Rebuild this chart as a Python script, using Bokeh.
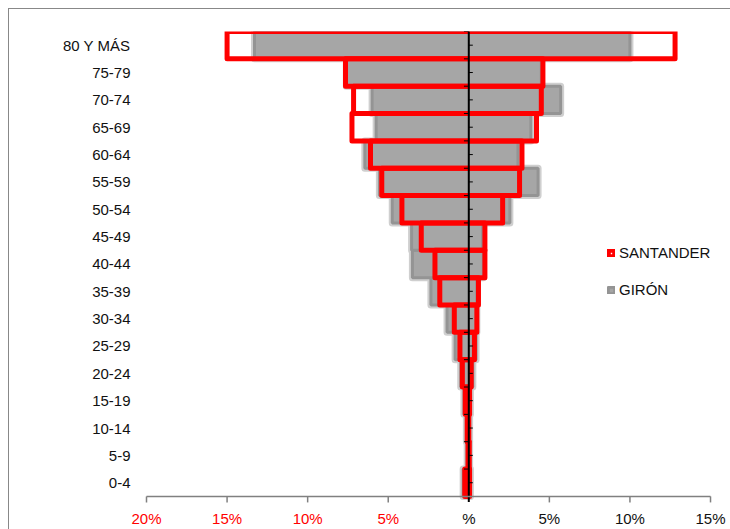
from bokeh.plotting import figure
from bokeh.models import ColumnDataSource, Range1d, Legend, LegendItem, FixedTicker
from bokeh.core.properties import value
from bokeh.embed import file_html
from bokeh.resources import INLINE

# ---- data (bottom to top) ----
ages = ["0-4", "5-9", "10-14", "15-19", "20-24", "25-29", "30-34", "35-39", "40-44",
        "45-49", "50-54", "55-59", "60-64", "65-69", "70-74", "75-79", "80 Y MÁS"]
santander_left = [0.25, 0.05, 0.10, 0.22, 0.40, 0.55, 0.90, 1.80, 2.10, 2.95, 4.15,
                  5.40, 6.10, 7.25, 7.15, 7.65, 15.0]
santander_right = [0.05, 0.03, 0.00, 0.05, 0.15, 0.35, 0.50, 0.60, 1.00, 1.00, 2.10,
                   3.15, 3.30, 4.20, 4.50, 4.60, 12.8]
giron_left = [0.35, 0.10, 0.15, 0.30, 0.50, 0.85, 1.35, 2.35, 3.50, 3.55, 4.75,
              5.55, 6.45, 5.75, 6.00, 7.60, 13.3]
giron_right = [0.10, 0.05, 0.05, 0.10, 0.25, 0.45, 0.50, 0.50, 0.90, 0.85, 2.55,
               4.30, 3.05, 3.85, 5.70, 4.50, 10.0]

tick_values = [-20, -15, -10, -5, 0, 5, 10, 15]
tick_labels = ["20%", "15%", "10%", "5%", "%", "5%", "10%", "15%"]
series_names = ["SANTANDER", "GIRÓN"]

FONT = "Liberation Sans"
RED = "#ff0000"
TXT = "#111111"

n = len(ages)
ypos = [i + 0.5 for i in range(n)]
src = ColumnDataSource(dict(
    y=ypos,
    s_left=[-v for v in santander_left], s_right=santander_right,
    g_left=[-v for v in giron_left], g_right=giron_right,
))

p = figure(width=730, height=529, y_range=Range1d(-1.21, n),
           x_range=Range1d(-20.993, 16.24), output_backend="svg", toolbar_location=None,
           min_border_left=130, min_border_right=0, min_border_top=31, min_border_bottom=0)
p.outline_line_color = None
p.border_fill_alpha = 0
p.styles = {"background": "linear-gradient(#888888,#888888) 8px 8px / 1px 100% no-repeat, "
                          "linear-gradient(#888888,#888888) 8px 8px / 100% 1px no-repeat, white"}
p.xgrid.visible = False
p.ygrid.visible = False
p.xaxis.visible = False

# GIRÓN bars (grey with soft edge)
halo = p.hbar(y="y", left="g_left", right="g_right", height=1.0, source=src,
              fill_alpha=0, line_color="#cfcfcf", line_width=7, line_join="round")
grey = p.hbar(y="y", left="g_left", right="g_right", height=1.0, source=src,
              fill_color="#a6a6a6", line_color="#949494", line_width=3)

# SANTANDER bars (red outline)
red = p.hbar(y="y", left="s_left", right="s_right", height=1.0, source=src,
             fill_alpha=0, line_color=RED, line_width=5, line_join="round")

# vertical zero axis with ticks
bounds = list(range(n + 1))
p.segment(x0=0, y0=-0.2, x1=0, y1=n, line_color="black", line_width=2)
p.segment(x0=[-0.3] * len(bounds), y0=bounds, x1=[0.0] * len(bounds), y1=bounds,
          line_color="black", line_width=1)
p.segment(x0=0, y0="y", x1=0.25, y1="y", source=src, line_color="black", line_width=1)

# horizontal value axis drawn in data space
p.segment(x0=tick_values[0], y0=0, x1=tick_values[-1], y1=0,
          line_color="#808080", line_width=1.5)
nonzero = [v for v in tick_values if v != 0]
p.segment(x0=nonzero, y0=[0] * len(nonzero), x1=nonzero, y1=[-0.22] * len(nonzero),
          line_color="#808080", line_width=1.5)
tl_src = ColumnDataSource(dict(
    x=tick_values, y=[-0.82] * len(tick_values), t=tick_labels,
    c=[RED if v < 0 else TXT for v in tick_values]))
p.text(x="x", y="y", text="t", source=tl_src, text_color="c", text_align="center",
       text_baseline="middle", text_font=value(FONT), text_font_size="15px")

# y axis (labels only)
ya = p.yaxis[0]
ya.ticker = FixedTicker(ticks=ypos)
ya.major_label_overrides = {y: a for y, a in zip(ypos, ages)}
ya.axis_line_color = None
ya.major_tick_line_color = None
ya.minor_tick_line_color = None
ya.major_tick_out = 0
ya.major_label_standoff = 0
ya.major_label_text_font = FONT
ya.major_label_text_font_size = "15px"
ya.major_label_text_color = TXT

legend = Legend(items=[LegendItem(label=series_names[0], renderers=[red]),
                       LegendItem(label=series_names[1], renderers=[halo, grey])],
                location=(477, 231), border_line_color=None, background_fill_alpha=0,
                padding=0, margin=0, spacing=20, glyph_width=8, glyph_height=8,
                label_standoff=4, label_text_font=FONT, label_text_font_size="15px",
                label_text_color=TXT)
p.add_layout(legend)

open("out.html", "w").write(file_html(p, INLINE))
